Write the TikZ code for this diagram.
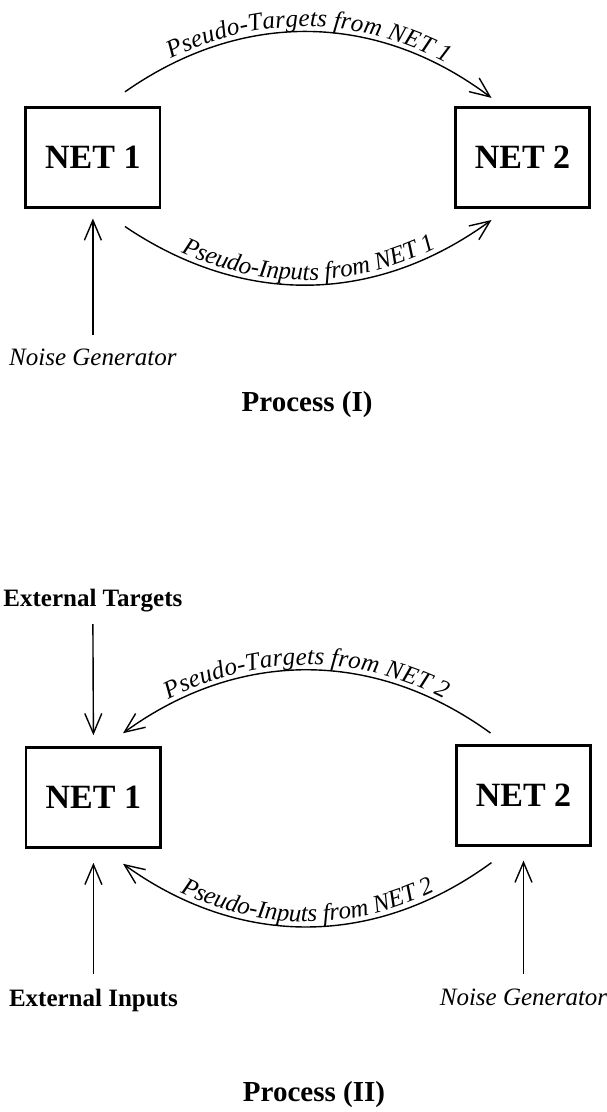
\documentclass[tikz,border=0pt]{standalone}
\usepackage{fontspec}
\setmainfont{Liberation Serif}
\usetikzlibrary{arrows.meta,decorations.text}
\newcommand\curvefont{\fontsize{25}{30}\selectfont\itshape}
\begin{document}
\begin{tikzpicture}[x=1pt,y=-1pt,
  netbox/.style={draw, line width=2.6pt, minimum width=134.5pt, minimum height=100pt, inner sep=0pt, font=\fontsize{34}{40}\selectfont\bfseries},
  arr/.style={line width=1.4pt, -{Straight Barb[length=20pt,width=17pt]}},
  lbl/.style={inner sep=0pt, anchor=base, font=\fontsize{25}{30}\selectfont\itshape},
  blbl/.style={inner sep=0pt, anchor=base, font=\fontsize{25}{30}\selectfont\bfseries},
  ptitle/.style={inner sep=0pt, anchor=base, font=\fontsize{29}{34}\selectfont\bfseries}
]
\useasboundingbox[fill=white] (0,0) rectangle (606,1112);

% ---------- Process (I) ----------
\node[netbox] (n1) at (92.9,157.2) {NET 1};
\node[netbox] (n2) at (522.5,157.2) {NET 2};

\draw[arr] ([xshift=32pt,yshift=14pt]n1.north) to[bend left=36] ([xshift=-31pt,yshift=8pt]n2.north);
\path[decorate, decoration={text along path, text align=center, raise=5pt,
  text={|\curvefont|Pseudo-Targets from NET 1}}]
  ([xshift=32pt,yshift=14pt]n1.north) to[bend left=36] ([xshift=-31pt,yshift=8pt]n2.north);

\draw[arr] ([xshift=32pt,yshift=-18pt]n1.south) to[bend right=35] ([xshift=-31pt,yshift=-11.5pt]n2.south);
\path[decorate, decoration={text along path, text align=center, raise=5pt,
  text={|\curvefont|Pseudo-Inputs from NET 1}}]
  ([xshift=32pt,yshift=-18pt]n1.south) to[bend right=35] ([xshift=-31pt,yshift=-11.5pt]n2.south);

\node[lbl] (g1) at (92.9,365) {Noise Generator};
\draw[arr] ([yshift=13pt]g1.north) -- ([yshift=-10pt]n1.south);

\node[ptitle] (p1) at (307.1,411.5) {Process (I)};

% ---------- Process (II) ----------
\node[blbl] (et) at (92.9,606.5) {External Targets};
\node[netbox] (m1) at (93.4,797.5) {NET 1};
\node[netbox] (m2) at (523.5,795.3) {NET 2};

\draw[arr] ([yshift=-12pt]et.south) -- ([yshift=11pt]m1.north);

\draw[arr] ([xshift=-33pt,yshift=11pt]m2.north) to[bend right=36] ([xshift=29.6pt,yshift=13pt]m1.north);
\path[decorate, decoration={text along path, text align=center, raise=5pt,
  text={|\curvefont|Pseudo-Targets from NET 2}}]
  ([xshift=29.6pt,yshift=13pt]m1.north) to[bend left=36] ([xshift=-33pt,yshift=11pt]m2.north);

\draw[arr] ([xshift=-32pt,yshift=-16pt]m2.south) to[bend left=36] ([xshift=29.6pt,yshift=-15pt]m1.south);
\path[decorate, decoration={text along path, text align=center, raise=5pt,
  text={|\curvefont|Pseudo-Inputs from NET 2}}]
  ([xshift=29.6pt,yshift=-15pt]m1.south) to[bend right=36] ([xshift=-32pt,yshift=-16pt]m2.south);

\node[blbl] (ei) at (93.4,1006.5) {External Inputs};
\draw[arr] ([yshift=14.5pt]ei.north) -- ([yshift=-14pt]m1.south);

\node[lbl] (g2) at (523.5,1005) {Noise Generator};
\draw[arr] ([yshift=14pt]g2.north) -- ([yshift=-14pt]m2.south);

\node[ptitle] (p2) at (314,1101.5) {Process (II)};
\end{tikzpicture}
\end{document}
